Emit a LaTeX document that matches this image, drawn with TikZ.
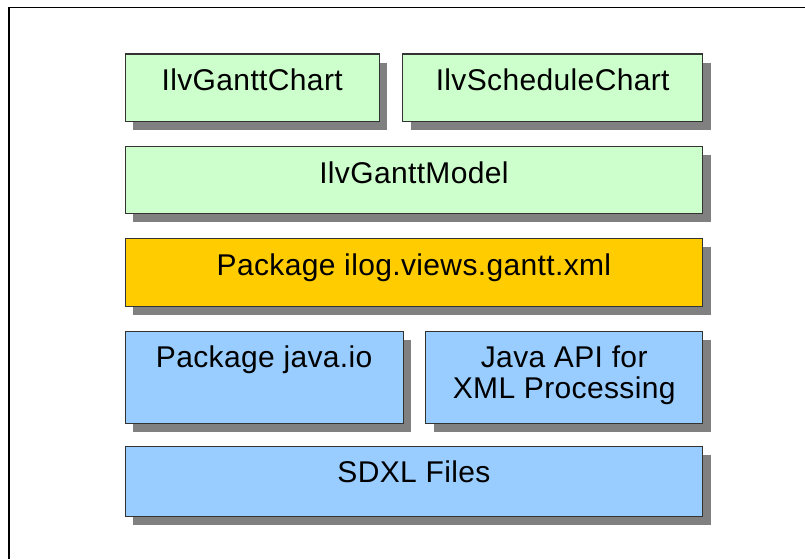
\documentclass[tikz,border=0pt]{standalone}
\usepackage{fontspec}
\setmainfont{Liberation Sans}[LetterSpace=1.2]
\usetikzlibrary{shadows}
\definecolor{greenfill}{HTML}{CCFFCC}
\definecolor{orangefill}{HTML}{FFCC00}
\definecolor{bluefill}{HTML}{99CCFF}
\definecolor{shadowgray}{HTML}{808080}
\definecolor{edgegray}{HTML}{333333}
\begin{document}
\begin{tikzpicture}[x=1pt,y=-1pt,
  layer/.style={draw=edgegray, line width=1.4pt, anchor=north west, inner sep=0pt,
    general shadow={fill=shadowgray, shadow xshift=8pt, shadow yshift=-8.5pt}},
  greenlayer/.style={layer, fill=greenfill},
  orangelayer/.style={layer, fill=orangefill},
  bluelayer/.style={layer, fill=bluefill},
  lbl/.style={anchor=base, inner sep=0pt, align=center, text=black,
    font=\fontsize{30}{31.7}\selectfont}]
  \useasboundingbox (0,0) rectangle (805,559);
  % frame around the stack
  \coordinate (frameBL) at (9,559);
  \coordinate (frameTR) at (805,7.3);
  \draw[line width=1.5pt, black] (frameBL) |- (frameTR);

  % top row: chart classes
  \node[greenlayer, minimum width=254pt, minimum height=67.5pt] (chart) at (124.5,53.5) {};
  \node[greenlayer, minimum width=300pt, minimum height=67.5pt] (sched) at (402,53.5) {};
  % model
  \node[greenlayer, minimum width=577.5pt, minimum height=67pt] (model) at (124.5,146) {};
  % xml package
  \node[orangelayer, minimum width=577.5pt, minimum height=68pt] (xmlpkg) at (124.5,238) {};
  % java libraries
  \node[bluelayer, minimum width=278pt, minimum height=92.5pt] (javaio) at (124.5,330.5) {};
  \node[bluelayer, minimum width=277pt, minimum height=92.5pt] (jaxp) at (425,330.5) {};
  % files
  \node[bluelayer, minimum width=577.5pt, minimum height=69.5pt] (sdxl) at (124.5,446) {};

  % labels, first baseline 37pt below each box top
  \node[lbl] (chartT) at ([yshift=-37pt]chart.north) {IlvGanttChart};
  \node[lbl] (schedT) at ([yshift=-37pt]sched.north) {IlvScheduleChart};
  \node[lbl] (modelT) at ([yshift=-37pt]model.north) {IlvGanttModel};
  \node[lbl] (xmlpkgT) at ([yshift=-37pt]xmlpkg.north) {Package ilog.views.gantt.xml};
  \node[lbl] (javaioT) at ([yshift=-37pt]javaio.north) {Package java.io};
  % two lines: base anchor sits on the last line
  \node[lbl] (jaxpT) at ([yshift=-68.2pt]jaxp.north) {Java API for\\XML Processing};
  \node[lbl] (sdxlT) at ([yshift=-36.5pt]sdxl.north) {SDXL Files};
\end{tikzpicture}
\end{document}
